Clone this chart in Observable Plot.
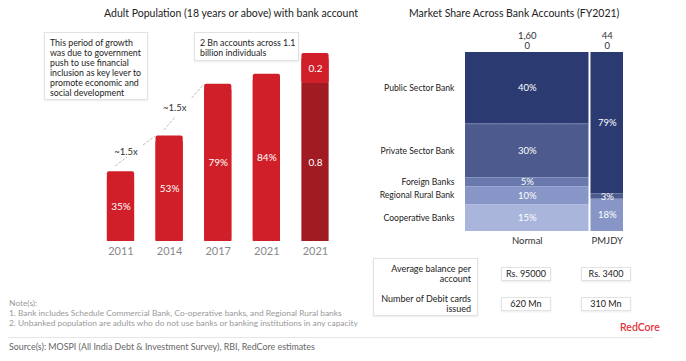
<!DOCTYPE html>
<html><head><meta charset="utf-8">
<script src="https://cdn.jsdelivr.net/npm/d3@7"></script>
<script src="https://cdn.jsdelivr.net/npm/@observablehq/plot@0.6"></script>
<style>
body{margin:0;background:#fff;}
#root{position:relative;width:686px;height:361px;font-family:Lato,"Noto Sans",sans-serif;color:#222;overflow:hidden;background:#fff}
.abs{position:absolute;white-space:nowrap}
.title{font-size:10.5px;color:#222;text-align:center}
.note{font-size:8.4px;color:#999;line-height:10px}
.box{border:1px solid #e2e2e2;box-shadow:0 1px 2px rgba(0,0,0,0.08);background:#fff;box-sizing:border-box}
.ann{font-size:8.8px;color:#222;line-height:9.9px;padding:5px 0 0 5px}
.cell{font-size:9px;color:#222;text-align:center;line-height:12px}
.lab{font-size:9px;color:#222;text-align:right;line-height:10px}
#left,#right{position:absolute;top:0}
</style></head><body><div id="root"></div>
<script>
// ---------- data: left chart ----------
const yearLabels = ["2011", "2014", "2017", "2021", "2021"];
const adultShare = [35, 53, 79, 84];            // % adults with bank account
const accountsBn = [0.8, 0.2];                   // 2021 accounts split (Bn), bottom / top
const accountsBarHeights = [79.5, 15];           // heights of those segments as read on the chart
const growthNotes = [{from: 0, to: 1, label: "~1.5x"}, {from: 1, to: 2, label: "~1.5x"}];
const note1Lines = ["This period of growth", "was due to government", "push to use financial", "inclusion as key lever to", "promote economic and", "social development"];
const note2Lines = ["2 Bn accounts across 1.1", "billion individuals"];

// ---------- data: right chart ----------
const bankTypes = ["Public Sector Bank", "Private Sector Bank", "Foreign Banks", "Regional Rural Bank", "Cooperative Banks"];
const bankColors = ["#2c3a72", "#4d5a8e", "#6a79ad", "#8896c7", "#aab5dc"];
const accountTypes = ["Normal", "PMJDY"];
const accountsMn = [1600, 440];
const accountsHeader = ["1,60\n0", "44\n0"];
const normalShares = [40, 30, 5, 10, 15];
const pmjdyTypes = ["Public Sector Bank", "Private Sector Bank", "Regional Rural Bank"];
const pmjdyShares = [79, 3, 18];
const tableRows = [["Average balance per", "account"], ["Number of Debit cards", "issued"]];
const tableNormal = ["Rs. 95000", "620 Mn"];
const tablePmjdy = ["Rs. 3400", "310 Mn"];

const root = document.getElementById("root");
const font = "Lato, 'Noto Sans', sans-serif";

// ---------- left chart ----------
const barHalf = 0.28;
const bars = adultShare.map((v, i) => ({i, v, label: v + "%"}));
const stackIdx = 4;
let acc = 0;
const stackSegs = accountsBarHeights.map((h, k) => {
  const s = {i: stackIdx, y1: acc, y2: acc + h, label: String(accountsBn[k]), fill: k === 0 ? "#a01b22" : "#d01f28"};
  acc += h; return s;
});
const yearData = yearLabels.map((y, i) => ({i, y}));
const links = [];
const noteLabels = [];
growthNotes.forEach(g => {
  const sx = g.from - 0.12, sy = adultShare[g.from] + 3;
  const ex = g.to - 0.3, ey = adultShare[g.to];
  const at = t => [sx + (ex - sx) * t, sy + (ey - sy) * t];
  [[0, 0.3], [0.7, 1]].forEach(([a, b]) => {
    const p = at(a), q = at(b);
    links.push({x1: p[0], y1: p[1], x2: q[0], y2: q[1]});
  });
  const m = at(0.5);
  noteLabels.push({x: m[0], y: m[1], label: g.label});
});

const left = Plot.plot({
  width: 345, height: 265,
  style: {fontFamily: font, background: "transparent", overflow: "visible"},
  x: {domain: [0, 4], range: [120.5, 315], axis: null},
  y: {domain: [0, 100], range: [241, 42], axis: null},
  marks: [
    Plot.rect(bars, {x1: d => d.i - barHalf, x2: d => d.i + barHalf, y1: 0, y2: "v", fill: "#d01f28", rx: 2}),
    Plot.rect(bars, {x1: d => d.i - barHalf, x2: d => d.i + barHalf, y1: 0, y2: d => d.v - 3, fill: "#d01f28"}),
    Plot.rect(stackSegs.slice(1), {x1: d => d.i - barHalf, x2: d => d.i + barHalf, y1: "y1", y2: "y2", fill: "fill", rx: 2}),
    Plot.rect(stackSegs.slice(1), {x1: d => d.i - barHalf, x2: d => d.i + barHalf, y1: "y1", y2: d => d.y2 - 3, fill: "fill"}),
    Plot.rect(stackSegs.slice(0, 1), {x1: d => d.i - barHalf, x2: d => d.i + barHalf, y1: "y1", y2: "y2", fill: "fill"}),
    Plot.text(bars, {x: "i", y: d => d.v / 2, text: "label", fill: "white", fontSize: 10}),
    Plot.text(stackSegs, {x: "i", y: d => (d.y1 + d.y2) / 2, text: "label", fill: "white", fontSize: 10}),
    Plot.text(yearData, {x: "i", y: 0, dy: 10, text: "y", fill: "#888", fontSize: 11}),
    Plot.link(links, {x1: "x1", y1: "y1", x2: "x2", y2: "y2", stroke: "#bdbdbd", strokeWidth: 1, strokeDasharray: "3,1.5"}),
    Plot.text(noteLabels, {x: "x", y: "y", text: "label", dx: -9, dy: 1, fill: "#333", fontSize: 9.5})
  ]
});
left.id = "left";
left.style.left = "0px";
root.appendChild(left);

// ---------- right chart ----------
const OFF = 345;
let cx = 0;
const cols = accountTypes.map((t, j) => {
  const c = {t, x1: cx, x2: cx + accountsMn[j], header: accountsHeader[j]};
  cx += accountsMn[j]; return c;
});
function segs(types, shares, col) {
  let top = 100;
  return types.map((t, k) => {
    const s = {type: t, col: col.t, x1: col.x1, x2: col.x2, y2: top, y1: top - shares[k], label: shares[k] + "%"};
    top -= shares[k]; return s;
  });
}
const cells = [...segs(bankTypes, normalShares, cols[0]), ...segs(pmjdyTypes, pmjdyShares, cols[1])];
const normalCells = cells.filter(d => d.col === "Normal");

const right = Plot.plot({
  width: 341, height: 250,
  style: {fontFamily: font, background: "transparent", overflow: "visible"},
  x: {domain: [0, accountsMn[0] + accountsMn[1]], range: [464 - OFF, 624 - OFF], axis: null},
  y: {domain: [0, 100], range: [231, 52], axis: null},
  color: {domain: bankTypes, range: bankColors},
  marks: [
    Plot.rect(cells, {x1: "x1", x2: "x2", y1: "y1", y2: "y2", fill: "type", insetLeft: 1, insetRight: 1}),
    Plot.ruleY(normalCells.slice(1, 2), {x1: "x1", x2: "x2", y: "y2", insetLeft: 1, insetRight: 1, stroke: "#7d88b5", strokeDasharray: "1.5,1.5", strokeWidth: 0.8}),
    Plot.text(cells, {x: d => (d.x1 + d.x2) / 2, y: d => (d.y1 + d.y2) / 2, text: "label", fill: "white", fontSize: 9.5}),
    Plot.text(normalCells, {x: 0, y: d => (d.y1 + d.y2) / 2, text: "type", textAnchor: "end", dx: -10, fill: "#222", fontSize: 8.6}),
    Plot.text(cols, {x: d => (d.x1 + d.x2) / 2, y: 100, text: "header", lineAnchor: "bottom", dy: -4, fill: "#333", fontSize: 9.5, lineHeight: 1.05}),
    Plot.text(cols, {x: d => (d.x1 + d.x2) / 2, y: 0, text: "t", dy: 9, fill: "#333", fontSize: 9.5})
  ]
});
right.id = "right";
right.style.left = OFF + "px";
root.appendChild(right);

// ---------- html texts ----------
function add(html, cls, css) {
  const d = document.createElement("div");
  d.className = "abs " + cls;
  d.innerHTML = html;
  Object.assign(d.style, css);
  root.appendChild(d);
  return d;
}
add("Adult Population (18 years or above) with bank account", "title", {left: "80px", width: "302px", top: "7px"});
add("Market Share Across Bank Accounts (FY2021)", "title", {left: "409px", width: "200px", top: "7px"});
add(note1Lines.join("<br>"), "box ann", {left: "44px", top: "32px", width: "104px", height: "68px"});
add(note2Lines.join("<br>"), "box ann", {left: "194px", top: "32px", width: "105px", height: "29px"});

// table
add(tableRows.map(r => `<div style="height:30px">${r.join("<br>")}</div>`).join(""),
  "box lab", {left: "373px", top: "258px", width: "105px", height: "58px", padding: "5px 6px 0 0"});
const colCenters = [526, 606];
[tableNormal, tablePmjdy].forEach((vals, j) => {
  vals.forEach((v, r) => {
    add(v, "box cell", {left: (colCenters[j] - 25) + "px", top: (267 + r * 30) + "px", width: "50px", height: "14px"});
  });
});
add("RedCore", "", {left: "620px", top: "321px", fontSize: "10.5px", color: "#e3343b", fontWeight: "600"});

// notes
add("Note(s):<br>1. Bank includes Schedule Commercial Bank, Co-operative banks, and Regional Rural banks<br>2. Unbanked population are adults who do not use banks or banking institutions in any capacity", "note", {left: "9px", top: "298px"});
add("", "", {left: "8px", top: "337px", width: "645px", height: "1px", background: "#e6e6e6"});
add("Source(s): MOSPI (All India Debt &amp; Investment Survey), RBI, RedCore estimates", "", {left: "9px", top: "341px", fontSize: "8.9px", color: "#666"});
</script></body></html>
